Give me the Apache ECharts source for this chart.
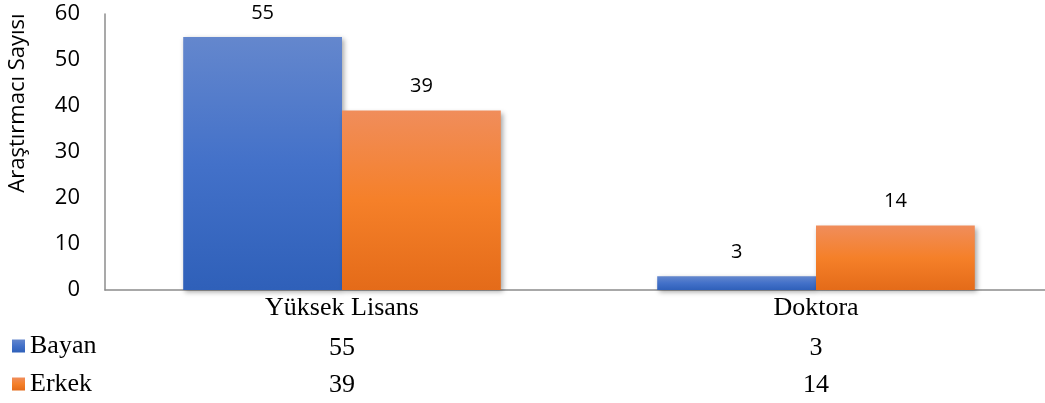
<!DOCTYPE html>
<html><head><meta charset="utf-8">
<script src="https://cdn.jsdelivr.net/npm/echarts@6/dist/echarts.min.js"></script>
<style>html,body{margin:0;padding:0;background:#fff}#c{width:1045px;height:403px}</style>
</head><body><div id="c"></div>
<script>
const categories = ['Yüksek Lisans', 'Doktora'];
const bayan = [55, 3];
const erkek = [39, 14];
const yTicks = [0, 10, 20, 30, 40, 50, 60];
const yTitle = 'Araştırmacı Sayısı';

const chart = echarts.init(document.getElementById('c'));
const serif = 'Liberation Serif';
const sans = 'Open Sans';
const blueGrad = new echarts.graphic.LinearGradient(0,0,0,1,[
  {offset:0,color:'#6487cd'},{offset:0.5,color:'#4371c9'},{offset:1,color:'#2f60b9'}]);
const orangeGrad = new echarts.graphic.LinearGradient(0,0,0,1,[
  {offset:0,color:'#f08d5b'},{offset:0.5,color:'#f58029'},{offset:1,color:'#e46b19'}]);
const shadow = {shadowBlur:5, shadowOffsetX:2, shadowOffsetY:2, shadowColor:'rgba(0,0,0,0.35)'};

const tableAxis = (vals, offset) => ({
  type:'category', data: vals.map(String), position:'bottom', offset: offset,
  axisLine:{show:false}, axisTick:{show:false},
  axisLabel:{fontFamily:serif, fontSize:26, color:'#000', margin:5}
});

chart.setOption({
  animation:false,
  grid:{left:105, top:14, width:948, height:276, outerBoundsMode:'none', containLabel:false},
  legend:[
    {data:['Bayan'], left:12, top:333, itemWidth:13, itemHeight:13, icon:'rect', padding:0,
     textStyle:{fontFamily:serif, fontSize:26, color:'#000'}},
    {data:['Erkek'], left:12, top:371, itemWidth:13, itemHeight:13, icon:'rect', padding:0,
     textStyle:{fontFamily:serif, fontSize:26, color:'#000'}}
  ],
  graphic:[{type:'text', x:18, y:103, rotation:Math.PI/2,
    style:{text:yTitle, font:'22px "Open Sans"', fill:'#000', textAlign:'center', textVerticalAlign:'middle'}}],
  xAxis:[
    {type:'category', data:categories,
     axisLine:{lineStyle:{color:'#8c8c8c', width:1.5}}, axisTick:{show:false},
     axisLabel:{fontFamily:serif, fontSize:26, color:'#000', margin:5}},
    tableAxis(bayan, 40),
    tableAxis(erkek, 77)
  ],
  yAxis:{type:'value', min:yTicks[0], max:yTicks[yTicks.length-1], interval:10,
    axisLine:{show:true, lineStyle:{color:'#8c8c8c', width:1.5}}, axisTick:{show:false},
    splitLine:{show:false},
    axisLabel:{fontFamily:sans, fontSize:22, color:'#000', margin:25}},
  series:[
    {name:'Bayan', type:'bar', data:bayan, barGap:'0%', barCategoryGap:'33%',
     itemStyle:Object.assign({color:blueGrad}, shadow),
     label:{show:true, position:'top', distance:14, fontFamily:sans, fontSize:20, color:'#000'}},
    {name:'Erkek', type:'bar', data:erkek, barGap:'0%', barCategoryGap:'33%',
     itemStyle:Object.assign({color:orangeGrad}, shadow),
     label:{show:true, position:'top', distance:14, fontFamily:sans, fontSize:20, color:'#000'}}
  ],
  color:['#4472c4','#ed7d31']
});
</script></body></html>
